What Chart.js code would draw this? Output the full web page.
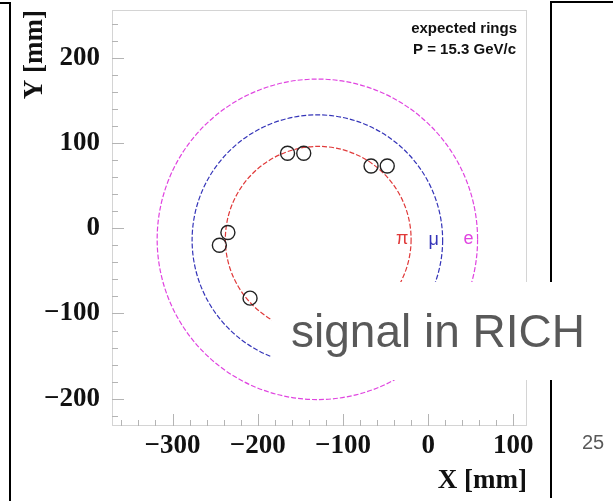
<!DOCTYPE html>
<html>
<head>
<meta charset="utf-8">
<script src="https://cdn.jsdelivr.net/npm/chart.js@4"></script>
<style>
  body { margin: 0; background: #fff; }
</style>
</head>
<body>
<canvas id="ringChart" width="613" height="501"></canvas>
<script>
// hits in the RICH photodetector (mm)
const hitX = [-165, -146, -67, -48, -235, -245, -209];
const hitY = [88, 88, 73, 73, -5, -20, -82];

// expected rings for P = 15.3 GeV/c
const ringLabels = ['π', 'μ', 'e'];
const ringCenterX = [-129, -130, -130];
const ringCenterY = [-13, -14, -13];
const ringRadius = [109, 147, 188];
const ringColors = ['#e03a3a', '#3434b8', '#e044e0'];

// axes
const xTicks = [-300, -200, -100, 0, 100];
const yTicks = [-200, -100, 0, 100, 200];
const xRange = [-371, 116];
const yRange = [-232, 256];

const serif = 'bold 27px "Liberation Serif", "DejaVu Serif", serif';
const sans = '"Liberation Sans", Arial, sans-serif';

// ROOT-like frame, ticks, rings and the slide overlay
const rootStyle = {
    id: 'rootStyle',
    beforeDatasetsDraw(chart) {
        const ctx = chart.ctx;
        const xs = chart.scales.x;
        const ys = chart.scales.y;
        const area = chart.chartArea;
        ctx.save();
        ctx.beginPath();
        ctx.rect(area.left, area.top, area.right - area.left, area.bottom - area.top);
        ctx.clip();
        ctx.lineWidth = 1.2;
        ctx.setLineDash([5, 2]);
        ringRadius.forEach((r, i) => {
            const cx = xs.getPixelForValue(ringCenterX[i]);
            const cy = ys.getPixelForValue(ringCenterY[i]);
            const rx = xs.getPixelForValue(ringCenterX[i] + r) - cx;
            const ry = cy - ys.getPixelForValue(ringCenterY[i] + r);
            ctx.strokeStyle = ringColors[i];
            ctx.beginPath();
            ctx.ellipse(cx, cy, rx, ry, 0, 0, Math.PI * 2);
            ctx.stroke();
            // particle name just inside the right edge of its ring
            ctx.fillStyle = ringColors[i];
            ctx.font = '18px ' + sans;
            ctx.textAlign = 'center';
            ctx.textBaseline = 'middle';
            ctx.fillText(ringLabels[i], cx + rx - 9, cy);
        });
        ctx.restore();
    },
    afterDraw(chart) {
        const ctx = chart.ctx;
        const xs = chart.scales.x;
        const ys = chart.scales.y;
        const { left, right, top, bottom } = chart.chartArea;
        ctx.save();

        // frame
        ctx.strokeStyle = '#d4d4d4';
        ctx.lineWidth = 1;
        ctx.strokeRect(left + 0.5, top + 0.5, right - left - 1, bottom - top - 1);

        // ticks (major every 100, minor every 20), pointing inwards
        ctx.strokeStyle = '#b4b4b4';
        ctx.beginPath();
        for (let v = -360; v <= 100; v += 20) {
            const px = Math.round(xs.getPixelForValue(v)) + 0.5;
            const len = v % 100 === 0 ? 12 : 6;
            ctx.moveTo(px, bottom);
            ctx.lineTo(px, bottom - len);
        }
        for (let v = -220; v <= 240; v += 20) {
            const py = Math.round(ys.getPixelForValue(v)) + 0.5;
            const len = v % 100 === 0 ? 12 : 6;
            ctx.moveTo(left, py);
            ctx.lineTo(left + len, py);
        }
        ctx.stroke();

        // tick labels
        ctx.fillStyle = '#111';
        ctx.font = serif;
        ctx.textBaseline = 'middle';
        ctx.textAlign = 'center';
        xTicks.forEach(v => {
            ctx.fillText(String(v).replace('-', '\u2212'), xs.getPixelForValue(v), 446);
        });
        ctx.textAlign = 'right';
        yTicks.forEach(v => {
            ctx.fillText(String(v).replace('-', '\u2212'), 100, ys.getPixelForValue(v));
        });

        // axis titles
        ctx.textAlign = 'right';
        ctx.fillText('X [mm]', right, 481);
        ctx.save();
        ctx.translate(35, top);
        ctx.rotate(-Math.PI / 2);
        ctx.textAlign = 'right';
        ctx.fillText('Y [mm]', 0, 0);
        ctx.restore();

        // legend text
        ctx.font = 'bold 15px ' + sans;
        ctx.textAlign = 'right';
        ctx.textBaseline = 'alphabetic';
        ctx.fillText('expected rings', 517, 33);
        ctx.fillText('P = 15.3 GeV/c', 516, 54);

        // slide borders
        ctx.strokeStyle = '#000';
        ctx.lineWidth = 2;
        ctx.beginPath();
        ctx.moveTo(0, 3);
        ctx.lineTo(10, 3);
        ctx.lineTo(10, 501);
        ctx.moveTo(613, 2);
        ctx.lineTo(551, 2);
        ctx.lineTo(551, 498);
        ctx.stroke();

        // caption box
        ctx.fillStyle = '#fff';
        ctx.beginPath();
        ctx.roundRect(272, 282, 341, 98, 8);
        ctx.fill();
        ctx.fillStyle = '#595959';
        ctx.font = '46px ' + sans;
        ctx.textAlign = 'left';
        ctx.fillText('signal in RICH', 291, 347);

        // page number
        ctx.font = '20px ' + sans;
        ctx.textAlign = 'center';
        ctx.textBaseline = 'middle';
        ctx.fillText('25', 593, 443);

        ctx.restore();
    }
};

new Chart(document.getElementById('ringChart').getContext('2d'), {
    type: 'scatter',
    data: {
        datasets: [{
            label: 'hits',
            data: hitX.map((v, i) => ({ x: v, y: hitY[i] })),
            showLine: false,
            pointRadius: 7,
            pointHoverRadius: 7,
            pointBorderWidth: 1.4,
            pointBorderColor: '#222',
            pointBackgroundColor: 'rgba(0,0,0,0)'
        }]
    },
    options: {
        responsive: false,
        animation: false,
        events: [],
        layout: {
            padding: { left: 112, right: 86, top: 10, bottom: 75 }
        },
        plugins: {
            legend: { display: false },
            tooltip: { enabled: false }
        },
        scales: {
            x: { type: 'linear', display: false, min: xRange[0], max: xRange[1] },
            y: { type: 'linear', display: false, min: yRange[0], max: yRange[1] }
        }
    },
    plugins: [rootStyle]
});
</script>
</body>
</html>
